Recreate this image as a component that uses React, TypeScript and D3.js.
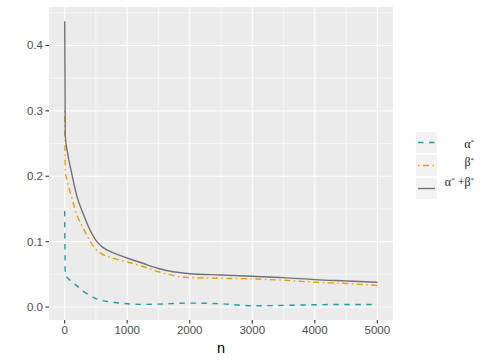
import * as d3 from "d3";

// sample sizes
const nValues = [1, 10, 50, 100, 200, 300, 400, 500, 600, 800, 1000, 1250, 1500, 2000, 2500, 3000, 3500, 4000, 4500, 5000];
// alpha*
const alphaValues = [0.147, 0.05, 0.044, 0.04, 0.032, 0.024, 0.018, 0.013, 0.01, 0.007, 0.005, 0.004, 0.0045, 0.006, 0.005, 0.002, 0.0025, 0.0035, 0.004, 0.004];
// beta*
const betaValues = [0.3, 0.21, 0.19, 0.172, 0.14, 0.12, 0.102, 0.088, 0.081, 0.074, 0.069, 0.062, 0.054, 0.045, 0.044, 0.043, 0.041, 0.038, 0.036, 0.033];
// alpha* + beta*
const totalValues = [0.437, 0.262, 0.234, 0.21, 0.168, 0.142, 0.119, 0.102, 0.092, 0.082, 0.075, 0.067, 0.059, 0.051, 0.049, 0.047, 0.045, 0.042, 0.04, 0.038];

const xTicks = [0, 1000, 2000, 3000, 4000, 5000];
const xMinor = [500, 1500, 2500, 3500, 4500];
const yTicks = [0, 0.1, 0.2, 0.3, 0.4];
const yMinor = [0.05, 0.15, 0.25, 0.35, 0.45];

const W = 490;
const H = 360;
const panel = { left: 49, right: 393, top: 7, bottom: 320 };

const series = [
  { key: "alpha", values: alphaValues, color: "#22A09B", dash: "5.5,5.5" },
  { key: "beta", values: betaValues, color: "#E69F00", dash: "1.5,3.5,6,3.5" },
  { key: "total", values: totalValues, color: "#737373", dash: null },
];

export default function App() {
  const xs = d3.scaleLinear().domain([-250, 5250]).range([panel.left, panel.right]);
  const ys = d3.scaleLinear().domain([-0.0198, 0.4588]).range([panel.bottom, panel.top]);

  const line = d3
    .line<number>()
    .x((_, i) => xs(nValues[i]))
    .y((d) => ys(d))
    .curve(d3.curveMonotoneX);

  const legendX = 416;
  const keyW = 21;
  const keyTops = [132, 155, 178];
  const keyH = 21;
  const labelBase = [148, 166, 186];
  const labelFont = "'Liberation Serif', serif";

  return (
    <svg
      width={W}
      height={H}
      style={{ position: "absolute", left: 0, top: 0, background: "#fff" }}
      fontFamily="'Liberation Sans', Arial, sans-serif"
    >
      <rect x={panel.left} y={panel.top} width={panel.right - panel.left} height={panel.bottom - panel.top} fill="#EBEBEB" />
      {yMinor.map((t) => (
        <line key={"ym" + t} x1={panel.left} x2={panel.right} y1={ys(t)} y2={ys(t)} stroke="#fff" strokeWidth={0.55} />
      ))}
      {xMinor.map((t) => (
        <line key={"xm" + t} y1={panel.top} y2={panel.bottom} x1={xs(t)} x2={xs(t)} stroke="#fff" strokeWidth={0.55} />
      ))}
      {yTicks.map((t) => (
        <line key={"y" + t} x1={panel.left} x2={panel.right} y1={ys(t)} y2={ys(t)} stroke="#fff" strokeWidth={1.1} />
      ))}
      {xTicks.map((t) => (
        <line key={"x" + t} y1={panel.top} y2={panel.bottom} x1={xs(t)} x2={xs(t)} stroke="#fff" strokeWidth={1.1} />
      ))}

      {series.map((s) => (
        <path
          key={s.key}
          d={line(s.values) || ""}
          fill="none"
          stroke={s.color}
          strokeWidth={1.4}
          strokeDasharray={s.dash || undefined}
        />
      ))}

      {/* y axis */}
      {yTicks.map((t) => (
        <g key={"yt" + t}>
          <line x1={panel.left - 3.5} x2={panel.left} y1={ys(t)} y2={ys(t)} stroke="#333" strokeWidth={1.1} />
          <text x={panel.left - 6} y={ys(t)} dy="0.35em" textAnchor="end" fontSize={11.5} fill="#4D4D4D">
            {d3.format(".1f")(t)}
          </text>
        </g>
      ))}
      {/* x axis */}
      {xTicks.map((t) => (
        <g key={"xt" + t}>
          <line x1={xs(t)} x2={xs(t)} y1={panel.bottom} y2={panel.bottom + 3.5} stroke="#333" strokeWidth={1.1} />
          <text x={xs(t)} y={panel.bottom + 14} textAnchor="middle" fontSize={11.5} fill="#4D4D4D">
            {t}
          </text>
        </g>
      ))}
      <text x={(panel.left + panel.right) / 2} y={353} textAnchor="middle" fontSize={14.5} fill="#000">
        n
      </text>

      {/* legend */}
      {series.map((s, i) => (
        <g key={"lg" + s.key}>
          <rect x={legendX} y={keyTops[i]} width={keyW} height={keyH} fill="#F2F2F2" />
          <line
            x1={legendX + 2}
            x2={legendX + keyW - 2}
            y1={keyTops[i] + keyH / 2}
            y2={keyTops[i] + keyH / 2}
            stroke={s.color}
            strokeWidth={1.4}
            strokeDasharray={s.dash || undefined}
          />
        </g>
      ))}
      <text x={474} y={labelBase[0]} textAnchor="end" fontSize={12} fontFamily={labelFont} fill="#1a1a1a">
        α<tspan fontSize={7} dy={-4.5}>*</tspan>
      </text>
      <text x={474} y={labelBase[1]} textAnchor="end" fontSize={12} fontFamily={labelFont} fill="#1a1a1a">
        β<tspan fontSize={7} dy={-4.5}>*</tspan>
      </text>
      <text x={474} y={labelBase[2]} textAnchor="end" fontSize={12} fontFamily={labelFont} fill="#1a1a1a">
        α<tspan fontSize={7} dy={-4.5}>*</tspan>
        <tspan dy={4.5}> +β</tspan>
        <tspan fontSize={7} dy={-4.5}>*</tspan>
      </text>
    </svg>
  );
}
